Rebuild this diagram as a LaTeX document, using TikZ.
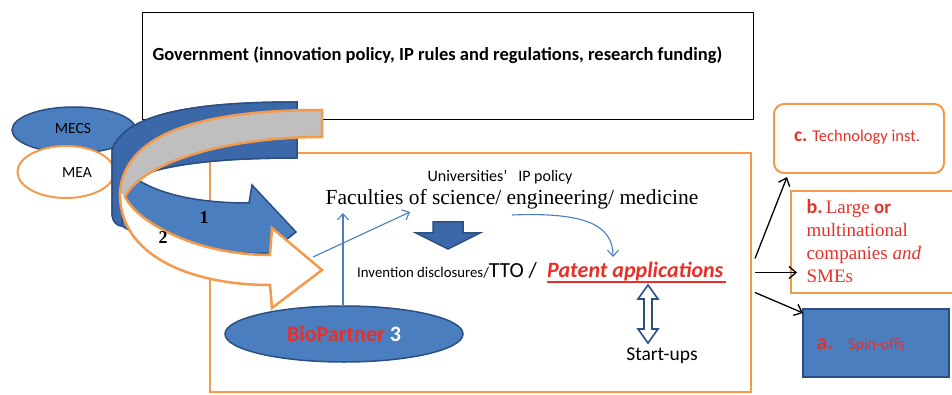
\documentclass[tikz,border=0pt]{standalone}
\usepackage{fontspec}
\setmainfont{Carlito}
\newfontfamily\serifface{Liberation Serif}
\usetikzlibrary{arrows.meta,shapes.geometric,calc}
\definecolor{obl}{HTML}{4A7EBE}
\definecolor{bkb}{HTML}{3A68A9}
\definecolor{dkb}{HTML}{2B4F82}
\definecolor{org}{HTML}{F39A4C}
\definecolor{gry}{HTML}{BFBFBF}
\definecolor{rtx}{HTML}{E8302A}
\begin{document}
\begin{tikzpicture}[x=1pt,y=-1pt,
  thinblue/.style={draw=obl, line width=1.1pt, -{Straight Barb[length=6pt,width=11pt]}},
  thinblack/.style={draw=black, line width=1.3pt, -{Straight Barb[length=7pt,width=12pt]}},
  blueshape/.style={fill=obl, draw=dkb, line width=1.5pt},
  orgbox/.style={draw=org, line width=2pt, fill=white}]
\useasboundingbox (0,0) rectangle (952,395);
\fill[white] (0,0) rectangle (952,395);

% ministries
\node[ellipse, blueshape, minimum width=124pt, minimum height=46pt] (mecs) at (74,130) {};
\node[font=\fontsize{15.5}{17}\selectfont] (mecst) at (73,129) {MECS};
\node[ellipse, draw=org, fill=white, line width=2pt, minimum width=97pt, minimum height=52pt] (mea) at (66,172) {};
\node[font=\fontsize{15.5}{17}\selectfont] (meat) at (77,173) {MEA};

% government box
\node[draw=black, line width=1.3pt, fill=white, anchor=north west, minimum width=611pt, minimum height=107pt] (gov) at (142,12) {};
\node[anchor=west, font=\bfseries\fontsize{18.5}{21}\selectfont] (govt) at (149,55) {Government (innovation policy, IP rules and regulations, research funding)};

% university frame
\node[draw=org, line width=2pt, anchor=north west, minimum width=541pt, minimum height=239pt] (frame) at (209,152) {};

% curved arrow 1 (blue ribbon)
\path[blueshape] (297,102) .. controls (200,102) and (125,112) .. (112,150)
  -- (112,215) .. controls (113,222) and (117,226) .. (122,226)
  .. controls (160,250) and (220,255) .. (268,253)
  -- (286,240) -- (296,232) -- (252,185) -- (249,203)
  .. controls (200,203) and (160,195) .. (135,178)
  .. controls (170,162) and (230,158) .. (297,158) -- cycle;
\path[fill=bkb, draw=dkb, line width=1.5pt, line join=round] (297,102) .. controls (200,102) and (125,112) .. (112,150)
  -- (112,215) .. controls (113,222) and (117,226) .. (122,226)
  -- (124,180) .. controls (170,162) and (230,158) .. (297,158) -- cycle;

% curved arrow 2 (orange outline ribbon)
\fill[white] (322,110) .. controls (210,110) and (125,130) .. (120,192)
  .. controls (118,255) and (190,285) .. (270,285)
  -- (272,308) -- (322,270) -- (272,228) -- (270,255)
  .. controls (200,255) and (140,225) .. (125,197)
  .. controls (140,165) and (220,137) .. (322,137) -- cycle;
\fill[gry] (322,110) .. controls (210,110) and (125,130) .. (120,192)
  -- (125,197) .. controls (140,165) and (220,137) .. (322,137) -- cycle;
\draw[org, line width=2.5pt, line join=miter] (322,110) .. controls (210,110) and (125,130) .. (120,192)
  .. controls (118,255) and (190,285) .. (270,285)
  -- (272,308) -- (322,270) -- (272,228) -- (270,255)
  .. controls (200,255) and (140,225) .. (125,197)
  .. controls (140,165) and (220,137) .. (322,137) -- cycle;

\node[font=\serifface\bfseries\fontsize{18}{20}\selectfont] (one) at (204,218) {1};
\node[font=\serifface\bfseries\fontsize{18}{20}\selectfont] (two) at (163,238) {2};

% inside the university frame
\node[font=\fontsize{16}{18}\selectfont] (univ) at (500,177) {Universities'\ \ \ IP policy};
\node[font=\serifface\fontsize{21.5}{24}\selectfont] (fac) at (512,199) {Faculties of science/ engineering/ medicine};
\path[blueshape, fill=bkb] (433,222) -- (463,222) -- (463,233) -- (480,233) -- (448,249) -- (416,233) -- (433,233) -- cycle;
\node[anchor=base west, inner sep=0pt] (inv) at (357,277) {\fontsize{14.8}{17}\selectfont Invention disclosures/\fontsize{21.5}{23}\selectfont TTO /};
\node[anchor=base west, inner sep=0pt, text=rtx, font=\bfseries\itshape\fontsize{22}{25}\selectfont] (pat) at (547,277) {Patent applications};
\draw[rtx, line width=1.3pt] ($(pat.base west)+(0,5)$) -- ($(pat.base east)+(2,5)$);
\node[font=\fontsize{19.5}{22}\selectfont] (start) at (662,356) {Start-ups};
\path[draw=dkb, fill=white, line width=1.6pt] (648,285) -- (658,299) -- (652,299) -- (652,329) -- (658,329)
  -- (648,343) -- (638,329) -- (644,329) -- (644,299) -- (638,299) -- cycle;

\node[ellipse, blueshape, minimum width=238pt, minimum height=56pt, font=\bfseries\fontsize{22}{24}\selectfont] (bio) at (344,334) {\textcolor{rtx}{BioPartner} \textcolor{white}{3}};

% thin blue connectors
\coordinate (facout) at (512,215);
\coordinate (patin) at (613,257);
\coordinate (bioup) at (343,213);
\coordinate (a2start) at (313,257);
\coordinate (facin) at (410,212);
\draw[thinblue] (facout) .. controls (585,212) and (613,225) .. (patin);
\draw[thinblue] (bioup |- bio.north) -- (bioup);
\draw[thinblue] (a2start) -- (facin);

% outcome boxes
\node[orgbox, rounded corners=10pt, anchor=north west, minimum width=170pt, minimum height=69pt] (tech) at (773,103) {};
\node[text=rtx, font=\fontsize{16.5}{19}\selectfont] (techt) at (857,137) {\textbf{\fontsize{19.5}{21}\selectfont c.} Technology inst.};
\node[orgbox, anchor=north west, minimum width=175pt, minimum height=102pt] (large) at (790,190) {};
\node[text=rtx, anchor=north west, align=left, font=\fontsize{19}{23}\selectfont] (larget) at (803,196)
  {\textbf{\fontsize{20}{23}\selectfont b.}\,{\serifface Large} \textbf{or}\\{\serifface multinational}\\{\serifface companies \textit{and}}\\{\serifface SMEs}};
\node[blueshape, anchor=north west, minimum width=146pt, minimum height=68pt] (spin) at (802,308) {};
\node[text=rtx, anchor=west] (spint) at (813,345) {\textbf{\fontsize{22}{24}\selectfont a.}\hspace{15pt}{\fontsize{16}{18}\selectfont Spin-offs}};

% black connectors to the outcomes
\coordinate (o1) at ($(frame.east)+(3,-14)$);
\coordinate (o2) at ($(frame.east)+(3,0)$);
\coordinate (o3) at ($(frame.east)+(3,20)$);
\draw[thinblack] (o1) -- ($(tech.south west)+(14,3)$);
\draw[thinblack] (o2) -- ($(large.west |- o2)+(7,0)$);
\draw[thinblack] (o3) -- ($(spin.north west)+(1,5)$);
\end{tikzpicture}
\end{document}
